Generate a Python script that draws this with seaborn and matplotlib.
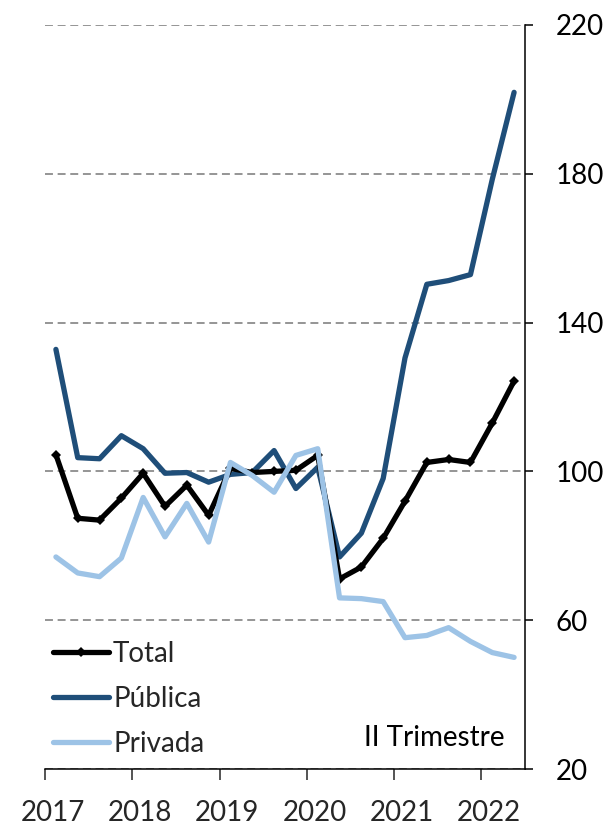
import numpy as np
import pandas as pd
import matplotlib
matplotlib.use("Agg")
import matplotlib.pyplot as plt
import seaborn as sns

# ---- data (quarterly index, 2017Q1 .. 2022Q2) ----
quarters = [f"{y}T{q}" for y in range(2017, 2023) for q in range(1, 5)][:22]
year_labels = ["2017", "2018", "2019", "2020", "2021", "2022"]
total = [104.5, 87.4, 86.9, 92.8, 99.5, 90.6, 96.3, 88.2, 100.8, 99.7, 100.0,
         100.3, 104.3, 71.1, 74.3, 82.0, 92.0, 102.4, 103.2, 102.4, 113.0, 124.3]
publica = [132.8, 103.7, 103.4, 109.6, 106.1, 99.5, 99.7, 97.1, 99.2, 99.7, 105.6,
           95.4, 101.1, 77.0, 83.4, 98.1, 130.5, 150.3, 151.3, 152.9, 178.5, 201.9]
privada = [77.0, 72.7, 71.7, 76.7, 93.0, 82.4, 91.4, 81.0, 102.4, 98.9, 94.4,
           104.3, 106.1, 66.0, 65.8, 65.0, 55.3, 55.9, 58.0, 54.3, 51.3, 50.0]
y_ticks = [20, 60, 100, 140, 180, 220]

sns.set_style("white")
plt.rcParams['font.family'] = ['Lato', 'DejaVu Sans']

fig = plt.figure(figsize=(6.07, 8.24), dpi=100)
ax = fig.add_axes([45/607, 55/824, 480/607, 744/824])

pos = np.arange(len(quarters)) + 0.5
df = pd.DataFrame({"x": pos, "Total": total, "Pública": publica, "Privada": privada})

lw = 3.8
sns.lineplot(data=df, x="x", y="Pública", ax=ax, color="#1f4e79", lw=lw,
             label="Pública", zorder=3)
sns.lineplot(data=df, x="x", y="Total", ax=ax, color="black", lw=lw,
             marker="D", markersize=5, markeredgewidth=0, label="Total", zorder=4)
sns.lineplot(data=df, x="x", y="Privada", ax=ax, color="#9dc3e6", lw=lw,
             label="Privada", zorder=5)

ax.set_xlim(0, len(quarters))
ax.set_ylim(20, 220)
ax.set_xlabel("")
ax.set_ylabel("")

# y axis on right
ax.yaxis.tick_right()
ax.set_yticks(y_ticks)
ax.set_yticklabels([str(v) for v in y_ticks], fontsize=20)
ax.tick_params(axis='y', direction='out', length=6, width=1.1, pad=16,
               left=False, right=True, colors='black')

# x axis: ticks at year boundaries, labels slightly offset
ax.set_xticks(np.arange(0, len(quarters), 4))
ax.set_xticklabels([])
ax.set_xticks(np.arange(0, len(quarters), 4) + 0.35, minor=True)
ax.set_xticklabels(year_labels, minor=True, fontsize=20)
ax.tick_params(axis='x', which='major', direction='out', length=8, width=1.1, bottom=True)
ax.tick_params(axis='x', which='minor', length=0, pad=22, bottom=True)

for s in ["left", "top"]:
    ax.spines[s].set_visible(False)
for s in ["right", "bottom"]:
    ax.spines[s].set_color("black")
    ax.spines[s].set_linewidth(1.1)

ax.yaxis.grid(True, color="#8c8c8c", linewidth=1.3, linestyle=(0, (4.4, 2.6)))
ax.xaxis.grid(False)
ax.set_axisbelow(True)

handles, labels = ax.get_legend_handles_labels()
order = [labels.index(n) for n in ["Total", "Pública", "Privada"]]
leg = ax.legend([handles[i] for i in order], [labels[i] for i in order],
                loc="lower left", bbox_to_anchor=(0.0, 0.005), frameon=False,
                fontsize=20, handlelength=2.0, handletextpad=0.15,
                labelspacing=0.68, borderaxespad=0.1, borderpad=0.2)

ax.text(0.958, 0.041, "II Trimestre", transform=ax.transAxes, ha="right",
        va="center", fontsize=20, color="black")

fig.savefig("out.png", dpi=100)
